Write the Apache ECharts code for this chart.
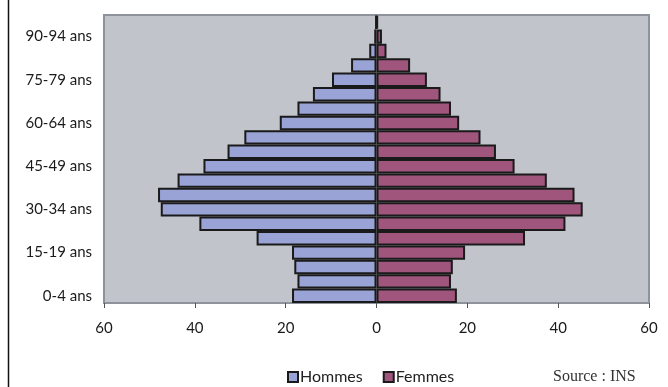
<!DOCTYPE html>
<html>
<head>
<meta charset="utf-8">
<script src="https://cdn.jsdelivr.net/npm/echarts@6/dist/echarts.min.js"></script>
<style>
  html, body { margin: 0; padding: 0; background: #fff; }
  #chart { width: 668px; height: 387px; }
</style>
</head>
<body>
<div id="chart"></div>
<script>
// age groups, bottom to top
const ageGroups = [
  "0-4 ans", "5-9 ans", "10-14 ans", "15-19 ans", "20-24 ans", "25-29 ans",
  "30-34 ans", "35-39 ans", "40-44 ans", "45-49 ans", "50-54 ans", "55-59 ans",
  "60-64 ans", "65-69 ans", "70-74 ans", "75-79 ans", "80-84 ans", "85-89 ans",
  "90-94 ans", "95 ans et +"
];
const hommes = [18.6, 17.4, 18.1, 18.6, 26.4, 39.0, 47.5, 48.1, 43.8, 38.1,
  32.8, 29.1, 21.3, 17.4, 14.0, 9.8, 5.6, 1.6, 0.5, 0.2];
const femmes = [17.7, 16.4, 16.8, 19.5, 32.7, 41.6, 45.4, 43.6, 37.5, 30.4,
  26.3, 22.9, 18.2, 16.4, 14.1, 11.1, 7.4, 2.2, 1.2, 0.3];
const xTicks = [-60, -40, -20, 0, 20, 40, 60];

const labelFont = "Lato, 'Open Sans', sans-serif";
const chart = echarts.init(document.getElementById("chart"));

chart.setOption({
  animation: false,
  grid: {
    left: 104, right: 19, top: 15, bottom: 84,
    show: true,
    backgroundColor: "#C1C4CB",
    borderColor: "#8E939B",
    borderWidth: 2
  },
  legend: {
    bottom: -3,
    left: 282,
    icon: "rect",
    itemWidth: 10,
    itemHeight: 10,
    itemGap: 20,
    textStyle: { fontFamily: labelFont, fontSize: 16, color: "#222", padding: [0, 0, 0, -3] },
    data: ["Hommes", "Femmes"]
  },
  xAxis: {
    type: "value",
    min: xTicks[0],
    max: xTicks[xTicks.length - 1],
    interval: 20,
    splitLine: { show: false },
    axisLine: { show: true, lineStyle: { color: "#8E939B", width: 1 } },
    axisTick: { show: true, length: 5, lineStyle: { color: "#555" } },
    axisLabel: {
      margin: 18,
      fontFamily: labelFont,
      fontSize: 15,
      color: "#1a1a1a",
      formatter: v => Math.abs(v)
    }
  },
  yAxis: {
    type: "category",
    data: ageGroups,
    axisLine: { show: false },
    axisTick: { show: false },
    axisLabel: {
      interval: 2,
      margin: 12,
      fontFamily: labelFont,
      fontSize: 15,
      color: "#1a1a1a"
    }
  },
  series: [
    {
      name: "Hommes",
      type: "bar",
      barGap: "-100%",
      barCategoryGap: "0%",
      data: hommes.map(v => -v),
      itemStyle: { color: "#9AA3D5", borderColor: "#1a1a1a", borderWidth: 2 }
    },
    {
      name: "Femmes",
      type: "bar",
      data: femmes,
      itemStyle: { color: "#A0557C", borderColor: "#1a1a1a", borderWidth: 2 }
    }
  ],
  graphic: [
    {
      type: "line",
      shape: { x1: 8.5, y1: 0, x2: 8.5, y2: 387 },
      style: { stroke: "#111", lineWidth: 1.5 }
    },
    {
      type: "text",
      left: 553,
      top: 369,
      style: {
        text: "Source : INS",
        font: "16px 'Liberation Serif', 'DejaVu Serif', serif",
        fill: "#333"
      }
    }
  ]
});
</script>
</body>
</html>
